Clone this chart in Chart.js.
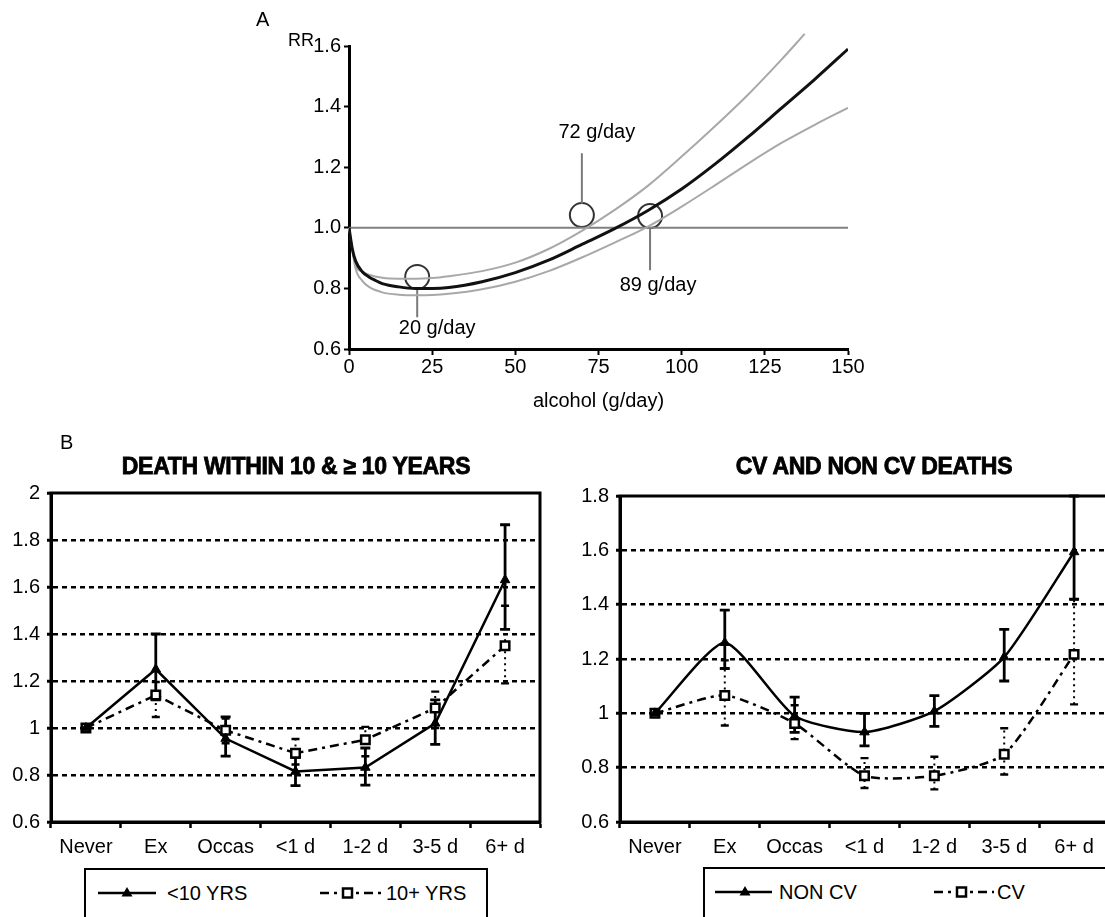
<!DOCTYPE html>
<html>
<head>
<meta charset="utf-8">
<script src="https://cdn.jsdelivr.net/npm/chart.js@4.4.1/dist/chart.umd.min.js"></script>
<style>
html,body{margin:0;padding:0;background:#fff;overflow:hidden;}
body{width:1105px;height:917px;position:relative;font-family:'Liberation Sans',Arial,Helvetica,sans-serif;color:#000;}
canvas{position:absolute;}
#cA{left:240px;top:0;}
#cL{left:0;top:420px;}
#cR{left:560px;top:420px;}
.lbl{position:absolute;font-size:20px;line-height:1;white-space:nowrap;}
.ttl{position:absolute;font-size:23px;font-weight:bold;-webkit-text-stroke:0.8px #000;transform:translateX(-50%);white-space:nowrap;line-height:1;letter-spacing:-0.3px;}
.legend{position:absolute;border:2px solid #000;box-sizing:border-box;background:#fff;}
.smp{position:absolute;}
</style>
</head>
<body>
<canvas id="cA" width="640" height="420"></canvas>
<canvas id="cL" width="560" height="440"></canvas>
<canvas id="cR" width="560" height="440"></canvas>

<div class="lbl" id="pA" style="left:256px;top:9px;"></div>
<div class="lbl" id="pB" style="left:60px;top:432px;"></div>
<div class="ttl" id="tL" style="left:296px;top:455px;"></div>
<div class="ttl" id="tR" style="left:874px;top:455px;"></div>

<div class="legend" style="left:84px;top:868px;width:404px;height:70px;"></div>
<svg class="smp" style="left:98px;top:883px;" width="58" height="20"><line x1="0" y1="10" x2="58" y2="10" stroke="#000" stroke-width="2.5"/><polygon points="29,4 34.5,13.5 23.5,13.5" fill="#000"/></svg>
<div class="lbl" id="lg1" style="left:167px;top:883px;"></div>
<svg class="smp" style="left:320px;top:883px;" width="62" height="20"><line x1="0" y1="10" x2="62" y2="10" stroke="#000" stroke-width="2.5" stroke-dasharray="9,5,3,5"/><rect x="23" y="5.5" width="9" height="9" fill="#fff" stroke="#000" stroke-width="2.5"/></svg>
<div class="lbl" id="lg2" style="left:386px;top:883px;"></div>

<div class="legend" style="left:703px;top:867px;width:430px;height:70px;"></div>
<svg class="smp" style="left:715px;top:882px;" width="57" height="20"><line x1="0" y1="10" x2="57" y2="10" stroke="#000" stroke-width="2.5"/><polygon points="30,4 35.5,13.5 24.5,13.5" fill="#000"/></svg>
<div class="lbl" id="lg3" style="left:779px;top:882px;"></div>
<svg class="smp" style="left:934px;top:882px;" width="60" height="20"><line x1="0" y1="10" x2="60" y2="10" stroke="#000" stroke-width="2.5" stroke-dasharray="9,5,3,5"/><rect x="23" y="5.5" width="9" height="9" fill="#fff" stroke="#000" stroke-width="2.5"/></svg>
<div class="lbl" id="lg4" style="left:997px;top:882px;"></div>

<script>
// ---------------- Panel A data ----------------
const panelALetter = 'A';
const xTitleA = 'alcohol (g/day)';
const yTitleA = 'RR';
const alcoholMainX = [0, 1, 2, 4, 6, 8, 10, 15, 20, 25, 30, 40, 50, 60, 70, 80, 90, 100, 110, 120, 130, 140, 150];
const rrMain       = [1.00, 0.93, 0.89, 0.855, 0.838, 0.826, 0.816, 0.805, 0.800, 0.800, 0.803, 0.822, 0.852, 0.893, 0.945, 0.998, 1.058, 1.128, 1.21, 1.30, 1.395, 1.49, 1.59];
const alcoholUpperX = [0, 2, 4, 6, 10, 15, 20, 25, 30, 40, 50, 60, 70, 80, 90, 100, 110, 120, 130, 137];
const rrUpper       = [1.00, 0.875, 0.855, 0.845, 0.835, 0.832, 0.832, 0.834, 0.84, 0.857, 0.885, 0.93, 0.99, 1.06, 1.14, 1.235, 1.335, 1.44, 1.555, 1.64];
const alcoholLowerX = [0, 2, 4, 6, 10, 15, 20, 25, 30, 40, 50, 60, 70, 80, 90, 100, 110, 120, 130, 140, 150];
const rrLower       = [1.00, 0.865, 0.825, 0.805, 0.787, 0.779, 0.777, 0.778, 0.782, 0.797, 0.822, 0.857, 0.902, 0.952, 1.005, 1.07, 1.14, 1.212, 1.28, 1.34, 1.396];
const refLineX = [0, 150];
const refLineY = [1, 1];
const markerX = [20.5, 70, 90.5];
const markerY = [0.838, 1.042, 1.039];
const leaderFromY = [0.80, 1.08, 1.00];
const leaderToY   = [0.705, 1.246, 0.86];
const markerLabels = ['20 g/day', '72 g/day', '89 g/day'];
const markerLabelX = [26.5, 74.5, 92.9];
const markerLabelY = [0.669, 1.313, 0.808];

// ---------------- Panel B data ----------------
const panelBLetter = 'B';
const categories = ['Never', 'Ex', 'Occas', '<1 d', '1-2 d', '3-5 d', '6+ d'];

const titleLeft = 'DEATH WITHIN 10 & \u2265 10 YEARS';
const nameLt10 = '<10 YRS';
const nameGe10 = '10+ YRS';
const lt10   = [1.00, 1.25, 0.955, 0.815, 0.832, 1.02, 1.63];
const lt10Lo = [null, 1.12, 0.88, 0.755, 0.757, 0.93, 1.42];
const lt10Hi = [null, 1.40, 1.047, 0.875, 0.915, 1.12, 1.865];
const ge10   = [1.00, 1.14, 0.99, 0.893, 0.95, 1.085, 1.35];
const ge10Lo = [null, 1.047, 0.935, 0.845, 0.88, 1.00, 1.19];
const ge10Hi = [null, 1.196, 1.04, 0.953, 1.005, 1.155, 1.52];

const titleRight = 'CV AND NON CV DEATHS';
const nameNonCv = 'NON CV';
const nameCv = 'CV';
const nonCv   = [1.00, 1.26, 0.99, 0.931, 1.008, 1.207, 1.594];
const nonCvLo = [null, 1.165, 0.93, 0.88, 0.952, 1.119, 1.42];
const nonCvHi = [null, 1.38, 1.06, 1.00, 1.065, 1.309, 1.80];
const cv      = [1.00, 1.066, 0.963, 0.77, 0.77, 0.849, 1.217];
const cvLo    = [null, 0.955, 0.905, 0.725, 0.72, 0.775, 1.033];
const cvHi    = [null, 1.195, 1.03, 0.835, 0.84, 0.945, 1.42];

// ---------------- text placement ----------------
document.getElementById('pA').textContent = panelALetter;
document.getElementById('pB').textContent = panelBLetter;
document.getElementById('tL').textContent = titleLeft;
document.getElementById('tR').textContent = titleRight;
document.getElementById('lg1').textContent = nameLt10;
document.getElementById('lg2').textContent = nameGe10;
document.getElementById('lg3').textContent = nameNonCv;
document.getElementById('lg4').textContent = nameCv;

const FAMILY = "'Liberation Sans', Arial, Helvetica, sans-serif";
Chart.defaults.font.family = FAMILY;
Chart.defaults.color = '#000';
Chart.defaults.animation = false;
Chart.defaults.plugins.legend.display = false;
Chart.defaults.plugins.tooltip.enabled = false;

const toXY = (xs, ys) => xs.map((x, i) => ({x: x, y: ys[i]}));

// ---------------- Panel A ----------------
const annotPlugin = {
  id: 'annotA',
  afterDatasetsDraw(chart) {
    const {ctx, scales: {x, y}, chartArea} = chart;
    ctx.save();
    ctx.fillStyle = '#000';
    ctx.font = '20px ' + FAMILY;
    ctx.textAlign = 'center';
    ctx.textBaseline = 'middle';
    markerLabels.forEach((t, i) => {
      ctx.fillText(t, x.getPixelForValue(markerLabelX[i]), y.getPixelForValue(markerLabelY[i]));
    });
    ctx.font = '18px ' + FAMILY;
    ctx.textAlign = 'right';
    ctx.fillText(yTitleA, chartArea.left - 35, chartArea.top - 5);
    ctx.restore();
  }
};

const leaderSets = markerX.map((mx, i) => ({
  data: [{x: mx, y: leaderFromY[i]}, {x: mx, y: leaderToY[i]}],
  showLine: true, borderColor: '#7a7a7a', borderWidth: 2, pointRadius: 0
}));

new Chart(document.getElementById('cA'), {
  type: 'scatter',
  data: {
    datasets: [
      {data: toXY(alcoholMainX, rrMain), showLine: true, borderColor: '#111', borderWidth: 3, pointRadius: 0, cubicInterpolationMode: 'monotone'},
      {data: toXY(alcoholUpperX, rrUpper), showLine: true, borderColor: '#a8a8a8', borderWidth: 2, pointRadius: 0, cubicInterpolationMode: 'monotone', clip: false},
      {data: toXY(alcoholLowerX, rrLower), showLine: true, borderColor: '#a8a8a8', borderWidth: 2, pointRadius: 0, cubicInterpolationMode: 'monotone'},
      {data: toXY(refLineX, refLineY), showLine: true, borderColor: '#808080', borderWidth: 2, pointRadius: 0},
      ...leaderSets,
      {data: toXY(markerX, markerY), showLine: false, pointRadius: 12, pointBorderWidth: 2, pointBorderColor: '#333', pointBackgroundColor: 'rgba(0,0,0,0)'}
    ]
  },
  options: {
    responsive: false,
    layout: {padding: {left: 0, right: 32, top: 46, bottom: 0}},
    scales: {
      x: {
        type: 'linear', min: 0, max: 150,
        ticks: {stepSize: 25, font: {size: 20}, color: '#000', padding: 0, maxRotation: 0},
        grid: {display: true, drawOnChartArea: false, drawTicks: true, tickLength: 6, tickColor: '#000', tickWidth: 2},
        border: {display: true, color: '#000', width: 3},
        title: {display: true, text: xTitleA, font: {size: 20}, color: '#000', padding: {top: 0, bottom: 7}},
        afterFit(s) { s.height = 71; }
      },
      y: {
        min: 0.6, max: 1.6,
        ticks: {stepSize: 0.2, font: {size: 20}, color: '#000', padding: 3, callback: v => Number(v).toFixed(1)},
        grid: {display: true, drawOnChartArea: false, drawTicks: true, tickLength: 5, tickColor: '#000', tickWidth: 2},
        border: {display: true, color: '#000', width: 3},
        afterFit(s) { s.width = 109; }
      }
    }
  },
  plugins: [annotPlugin]
});

// ---------------- Panel B ----------------
const framePlugin = {
  id: 'frameB',
  beforeDatasetsDraw(chart) {
    const {ctx, chartArea: a} = chart;
    ctx.save();
    ctx.strokeStyle = '#000';
    ctx.lineWidth = 3;
    ctx.setLineDash([]);
    ctx.strokeRect(a.left, a.top, a.right - a.left, a.bottom - a.top);
    ctx.restore();
  }
};

const errorBarPlugin = {
  id: 'errBars',
  beforeDatasetsDraw(chart) {
    const {ctx, scales: {x, y}} = chart;
    const order = chart.data.datasets.map((d, i) => i).reverse();
    order.forEach(i => {
      const ds = chart.data.datasets[i];
      if (!ds.errLo) return;
      const solid = ds.errStyle === 'solid';
      ctx.save();
      ctx.strokeStyle = '#000';
      ds.errLo.forEach((lo, j) => {
        const hi = ds.errHi[j];
        if (lo == null || hi == null) return;
        const px = x.getPixelForValue(j);
        const yl = y.getPixelForValue(lo), yh = y.getPixelForValue(hi);
        ctx.lineWidth = solid ? 2.8 : 2;
        ctx.setLineDash(solid ? [] : [2, 4]);
        ctx.beginPath(); ctx.moveTo(px, yl); ctx.lineTo(px, yh); ctx.stroke();
        ctx.setLineDash([]);
        ctx.lineWidth = solid ? 2.8 : 2.4;
        const hw = solid ? 5 : 4;
        ctx.beginPath();
        ctx.moveTo(px - hw, yl); ctx.lineTo(px + hw, yl);
        ctx.moveTo(px - hw, yh); ctx.lineTo(px + hw, yh);
        ctx.stroke();
      });
      ctx.restore();
    });
  }
};

function bDatasets(sVals, sLo, sHi, dVals, dLo, dHi, sName, dName, tension) {
  return [
    {label: sName, data: sVals, borderColor: '#000', borderWidth: 2.5, tension: tension,
     pointStyle: 'triangle', pointRadius: 5.5, pointBackgroundColor: '#000', pointBorderColor: '#000', pointBorderWidth: 1,
     errLo: sLo, errHi: sHi, errStyle: 'solid'},
    {label: dName, data: dVals, borderColor: '#000', borderWidth: 2.5, borderDash: [9, 5, 3, 5], tension: tension,
     pointStyle: 'rect', pointRadius: 6, pointBackgroundColor: '#fff', pointBorderColor: '#000', pointBorderWidth: 2.5,
     errLo: dLo, errHi: dHi, errStyle: 'dot'}
  ];
}

function bOptions(ymax, padRight, padTop, yWidth) {
  return {
    responsive: false,
    layout: {padding: {left: 0, right: padRight, top: padTop, bottom: 0}},
    scales: {
      x: {
        type: 'category', offset: true,
        ticks: {font: {size: 20}, color: '#000', padding: 7, maxRotation: 0, autoSkip: false},
        grid: {display: true, offset: true, drawOnChartArea: false, drawTicks: true, tickLength: 6, tickColor: '#000', tickWidth: 2.5},
        border: {display: true, color: '#000', width: 3},
        afterFit(s) { s.height = 38; }
      },
      y: {
        min: 0.6, max: ymax,
        ticks: {stepSize: 0.2, font: {size: 20}, color: '#000', padding: 7, callback: v => String(Number(Number(v).toFixed(1)))},
        grid: {
          display: true, drawOnChartArea: true, drawTicks: true, tickLength: 4,
          color: c => (c.tick && (Math.abs(c.tick.value - 0.6) < 1e-6 || Math.abs(c.tick.value - ymax) < 1e-6)) ? 'rgba(0,0,0,0)' : '#000',
          lineWidth: 2.5, tickColor: '#000', tickWidth: 3, tickBorderDash: []
        },
        border: {display: true, color: '#000', width: 3, dash: [5, 4]},
        afterFit(s) { s.width = yWidth; }
      }
    }
  };
}

new Chart(document.getElementById('cL'), {
  type: 'line',
  data: {labels: categories, datasets: bDatasets(lt10, lt10Lo, lt10Hi, ge10, ge10Lo, ge10Hi, nameLt10, nameGe10, 0)},
  options: bOptions(2, 20, 73, 51),
  plugins: [framePlugin, errorBarPlugin]
});

new Chart(document.getElementById('cR'), {
  type: 'line',
  data: {labels: categories, datasets: bDatasets(nonCv, nonCvLo, nonCvHi, cv, cvLo, cvHi, nameNonCv, nameCv, 0.2)},
  options: bOptions(1.8, 11, 76, 60),
  plugins: [framePlugin, errorBarPlugin]
});
</script>
</body>
</html>
